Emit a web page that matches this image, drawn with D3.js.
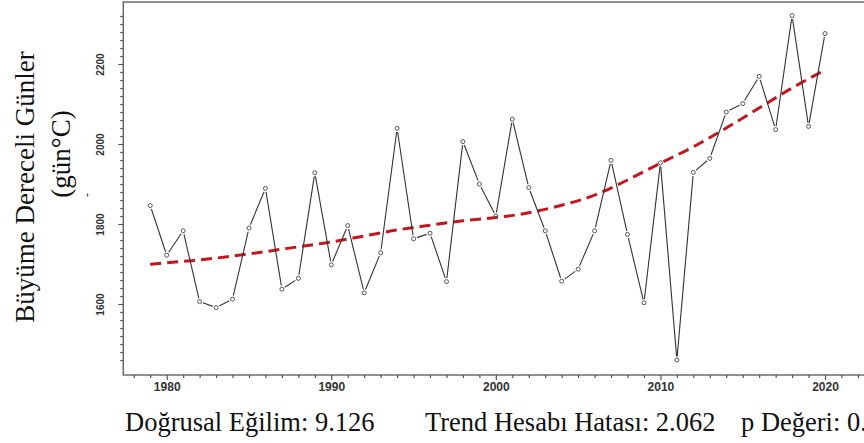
<!DOCTYPE html>
<html>
<head>
<meta charset="utf-8">
<script src="https://cdn.jsdelivr.net/npm/d3@7/dist/d3.min.js"></script>
<style>
html,body{margin:0;padding:0;background:#fff;}
svg{display:block;overflow:hidden;}
</style>
</head>
<body>
<svg id="chart" width="864" height="443"></svg>
<script>
// ---- data ----
const years = [1979,1980,1981,1982,1983,1984,1985,1986,1987,1988,1989,1990,1991,1992,1993,1994,1995,1996,1997,1998,1999,2000,2001,2002,2003,2004,2005,2006,2007,2008,2009,2010,2011,2012,2013,2014,2015,2016,2017,2018,2019,2020];
const gdd = [1846,1722,1783,1606,1591,1612,1790,1889,1637,1664,1928,1698,1796,1628,1728,2039,1763,1777,1656,2006,1900,1820,2062,1891,1783,1657,1687,1783,1959,1774,1603,1953,1460,1929,1964,2080,2101,2169,2036,2321,2044,2276];
const trendYears = [1979,1980,1982,1984,1986,1988,1990,1992,1994,1996,1998,2000,2002,2004,2006,2008,2010,2012,2014,2016,2018,2020];
const trendValues = [1699,1703,1710,1720,1731,1743,1755,1770,1785,1797,1808,1816,1828,1847,1872,1910,1952,1993,2040,2090,2140,2185];
const xMajorTicks = [1980,1990,2000,2010,2020];
const xMinorTicks = [1978,1979,1981,1982,1983,1984,1985,1986,1987,1988,1989,1991,1992,1993,1994,1995,1996,1997,1998,1999,2001,2002,2003,2004,2005,2006,2007,2008,2009,2011,2012,2013,2014,2015,2016,2017,2018,2019,2021,2022];
const yMajorTicks = [1600,1800,2000,2200];
const yMinorTicks = [1460,1480,1500,1520,1540,1560,1580,1620,1640,1660,1680,1700,1720,1740,1760,1780,1820,1840,1860,1880,1900,1920,1940,1960,1980,2020,2040,2060,2080,2100,2120,2140,2160,2180,2220,2240,2260,2280,2300,2320];
const yTitle1 = "Büyüme Dereceli Günler";
const yTitle2 = "(gün°C)";
const footer = ["Doğrusal Eğilim: 9.126", "Trend Hesabı Hatası: 2.062", "p Değeri: 0.000"];

// ---- scales ----
const svg = d3.select("#chart");
const x = d3.scaleLinear().domain([1980, 2020]).range([166.7, 825]);
const y = d3.scaleLinear().domain([1600, 2200]).range([304, 64]);
const xL = x(1977.36), xR = x(2024.5);
const yT = y(2355), yB = y(1422.5);

const axisColor = "#555";

// frame
svg.append("rect")
  .attr("x", xL).attr("y", yT)
  .attr("width", xR - xL).attr("height", yB - yT)
  .attr("fill", "none").attr("stroke", axisColor).attr("stroke-width", 1.3);

// x axis ticks
const gxMinor = svg.append("g").attr("transform", `translate(0,${yB})`)
  .call(d3.axisBottom(x).tickValues(xMinorTicks).tickSize(3).tickFormat(""));
const gxMajor = svg.append("g").attr("transform", `translate(0,${yB})`)
  .call(d3.axisBottom(x).tickValues(xMajorTicks).tickSize(5).tickPadding(2).tickFormat(d3.format("d")));
[gxMinor, gxMajor].forEach(g => {
  g.select(".domain").remove();
  g.selectAll(".tick line").attr("stroke", axisColor).attr("stroke-width", 1.2);
});
gxMajor.selectAll(".tick text")
  .attr("font-family", "Liberation Sans, Arial, sans-serif")
  .attr("font-size", 12).attr("font-weight", "bold").attr("fill", "#333");

// y axis ticks
const gyMinor = svg.append("g").attr("transform", `translate(${xL},0)`)
  .call(d3.axisLeft(y).tickValues(yMinorTicks).tickSize(3).tickFormat(""));
const gyMajor = svg.append("g").attr("transform", `translate(${xL},0)`)
  .call(d3.axisLeft(y).tickValues(yMajorTicks).tickSize(5).tickFormat(d3.format("d")));
[gyMinor, gyMajor].forEach(g => {
  g.select(".domain").remove();
  g.selectAll(".tick line").attr("stroke", axisColor).attr("stroke-width", 1.2);
});
gyMajor.selectAll(".tick text")
  .attr("transform", "rotate(-90)")
  .attr("x", 0).attr("y", -19).attr("dy", 0)
  .attr("text-anchor", "middle")
  .attr("font-family", "Liberation Sans, Arial, sans-serif")
  .attr("font-size", 10).attr("font-weight", "bold").attr("fill", "#333");

// trend line
const trendPts = trendYears.map((t, i) => [t, trendValues[i]]);
svg.append("path")
  .datum(trendPts)
  .attr("d", d3.line().x(d => x(d[0])).y(d => y(d[1])).curve(d3.curveMonotoneX))
  .attr("fill", "none")
  .attr("stroke", "#c4161c")
  .attr("stroke-width", 3)
  .attr("stroke-dasharray", "11,6");

// data: segments with gaps around points (type "b")
const pts = years.map((t, i) => ({ px: x(t), py: y(gdd[i]) }));
const gap = 3.6;
const segs = [];
for (let i = 0; i < pts.length - 1; i++) {
  const a = pts[i], b = pts[i + 1];
  const dx = b.px - a.px, dy = b.py - a.py;
  const len = Math.hypot(dx, dy);
  if (len > 2 * gap) {
    const ux = dx / len, uy = dy / len;
    segs.push({ x1: a.px + ux * gap, y1: a.py + uy * gap, x2: b.px - ux * gap, y2: b.py - uy * gap });
  }
}
svg.append("g").selectAll("line").data(segs).join("line")
  .attr("x1", d => d.x1).attr("y1", d => d.y1)
  .attr("x2", d => d.x2).attr("y2", d => d.y2)
  .attr("stroke", "#333").attr("stroke-width", 1.1);

svg.append("g").selectAll("circle").data(pts).join("circle")
  .attr("cx", d => d.px).attr("cy", d => d.py).attr("r", 2)
  .attr("fill", "none").attr("stroke", "#555").attr("stroke-width", 1);

// y title
const serif = "Liberation Serif, Times New Roman, serif";
svg.append("text")
  .attr("transform", "translate(34,187) rotate(-90)")
  .attr("text-anchor", "middle")
  .attr("font-family", serif).attr("font-size", 27).attr("fill", "#111")
  .text(yTitle1);
svg.append("text")
  .attr("transform", "translate(70,154) rotate(-90)")
  .attr("text-anchor", "middle")
  .attr("font-family", serif).attr("font-size", 27).attr("fill", "#111")
  .text(yTitle2);
svg.append("text")
  .attr("transform", "translate(91,195) rotate(-90)")
  .attr("text-anchor", "middle")
  .attr("font-family", serif).attr("font-size", 12).attr("fill", "#111")
  .text("-");

// footer
const footerX = [125, 425, 741];
svg.append("g").selectAll("text").data(footer).join("text")
  .attr("x", (d, i) => footerX[i]).attr("y", 431)
  .attr("font-family", serif).attr("font-size", 26.5).attr("fill", "#111")
  .text(d => d);
</script>
</body>
</html>
